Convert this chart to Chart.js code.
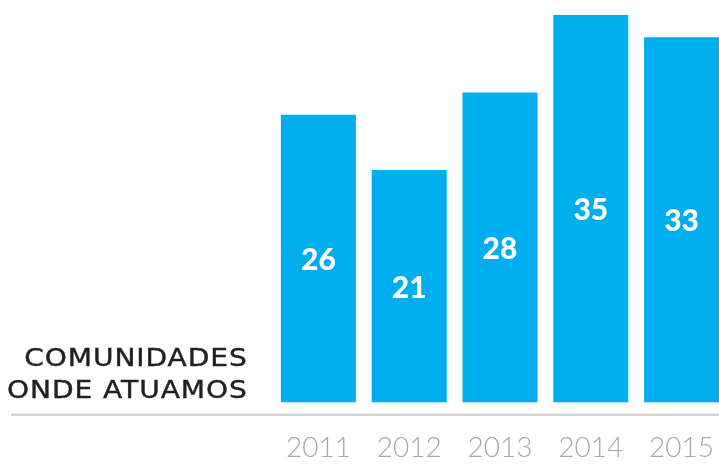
<!DOCTYPE html>
<html>
<head>
<meta charset="utf-8">
<script src="https://cdn.jsdelivr.net/npm/chart.js@4"></script>
<style>
    html, body { margin: 0; padding: 0; background: #fff; overflow: hidden; }
    #wrap { position: relative; width: 719px; height: 466px; overflow: hidden; }
    #chart { position: absolute; left: 0; top: 0; }
    #title {
        position: absolute; right: 471px; top: 342px;
        font-family: "DejaVu Sans", sans-serif; font-size: 24px; line-height: 32px;
        color: #231f20; text-align: right; letter-spacing: 0.8px; white-space: nowrap;
        -webkit-text-stroke: 0.4px #231f20;
        transform: scaleX(1.17); transform-origin: right center;
    }
</style>
</head>
<body>
<div id="wrap">
    <canvas id="chart" width="728" height="466"></canvas>
    <div id="title">COMUNIDADES<br>ONDE ATUAMOS</div>
</div>
<script>
// values
const years = ['2011', '2012', '2013', '2014', '2015'];
const communities = [26, 21, 28, 35, 33];

// grey rule, year labels under the bars and the white numbers inside them
const decorations = {
    id: 'decorations',
    afterDatasetsDraw(chart) {
        let ctx = chart.ctx;
        let xScale = chart.scales.x;
        ctx.save();
        ctx.fillStyle = '#d1d3d4';
        ctx.fillRect(11, 413.5, chart.width - 11, 2.5);

        ctx.textAlign = 'center';
        ctx.textBaseline = 'middle';
        ctx.fillStyle = '#a7a9ac';
        ctx.font = '300 28px Lato, sans-serif';
        years.forEach(function (year, i) {
            ctx.fillText(year, xScale.getPixelForTick(i), 448);
        });

        ctx.fillStyle = '#ffffff';
        ctx.font = '900 30px Lato, sans-serif';
        chart.getDatasetMeta(0).data.forEach(function (bar, i) {
            let mid = (bar.y + bar.base) / 2;
            ctx.fillText(communities[i], bar.x, mid + 2);
        });
        ctx.restore();
    }
};

let ctx = document.getElementById('chart').getContext('2d');
let communitiesChart = new Chart(ctx, {
    type: 'bar',
    data: {
        labels: years,
        datasets: [{
            data: communities,
            backgroundColor: '#00aeef',
            barPercentage: 0.826,
            categoryPercentage: 1
        }]
    },
    options: {
        responsive: false,
        animation: false,
        layout: { padding: { left: 273, right: 1, top: 15, bottom: 63.5 } },
        plugins: { legend: { display: false }, tooltip: { enabled: false } },
        scales: {
            x: { display: false },
            y: { display: false, min: 0, max: 35 }
        }
    },
    plugins: [decorations]
});
</script>
</body>
</html>
